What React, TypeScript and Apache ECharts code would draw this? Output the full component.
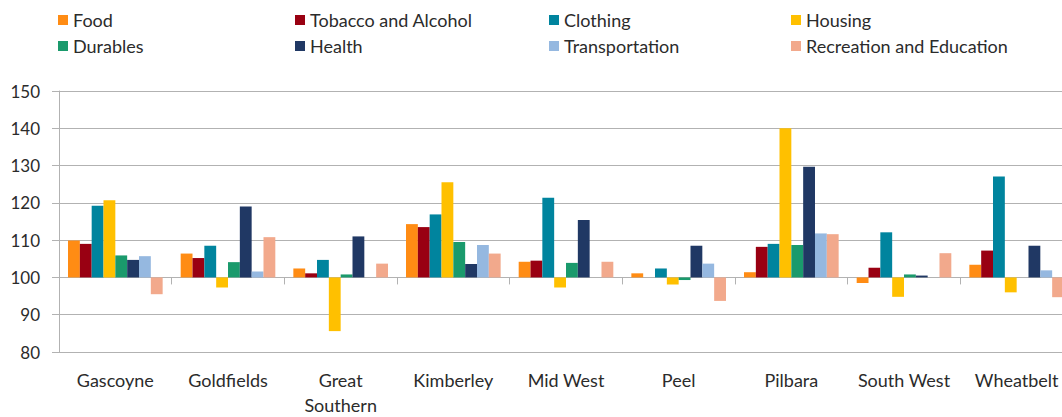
import { useEffect, useRef } from "react";
import * as echarts from "echarts";

// Regions of Western Australia (category axis)
const regions = [
  "Gascoyne",
  "Goldfields",
  "Great\nSouthern",
  "Kimberley",
  "Mid West",
  "Peel",
  "Pilbara",
  "South West",
  "Wheatbelt",
];

// Price index by expenditure group (Perth = 100)
const food = [109.9, 106.4, 102.4, 114.3, 104.2, 101.1, 101.4, 98.5, 103.4];
const tobaccoAlcohol = [109.0, 105.2, 101.1, 113.5, 104.5, 100.0, 108.2, 102.6, 107.2];
const clothing = [119.2, 108.5, 104.7, 116.9, 121.4, 102.4, 109.0, 112.1, 127.1];
const housing = [120.7, 97.3, 85.6, 125.5, 97.3, 98.1, 140.0, 94.8, 96.0];
const durables = [105.9, 104.1, 100.8, 109.5, 103.9, 99.3, 108.7, 100.8, 100.0];
const health = [104.7, 119.0, 111.0, 103.6, 115.4, 108.5, 129.7, 100.5, 108.5];
const transportation = [105.7, 101.6, 100.0, 108.7, 100.0, 103.7, 111.8, 100.0, 101.9];
const recreationEducation = [95.5, 110.8, 103.7, 106.4, 104.2, 93.7, 111.6, 106.5, 94.7];

const groupNames = [
  "Food",
  "Tobacco and Alcohol",
  "Clothing",
  "Housing",
  "Durables",
  "Health",
  "Transportation",
  "Recreation and Education",
];
const groupValues = [
  food,
  tobaccoAlcohol,
  clothing,
  housing,
  durables,
  health,
  transportation,
  recreationEducation,
];
const groupColors = [
  "#FF8C14",
  "#990012",
  "#00849E",
  "#FFC000",
  "#1A9A6C",
  "#203864",
  "#95B8E0",
  "#F2A98C",
];

// Value axis: index values, bars hang from the base of 100
const baseIndex = 100;
const axisMin = 80;
const axisMax = 150;
const axisStep = 10;

const FONT = "Lato, 'Open Sans', sans-serif";
const TEXT = "#2B2B2B";
const RULE = "#B2B2B2";

export default function App() {
  const ref = useRef<HTMLDivElement>(null);

  useEffect(() => {
    if (!ref.current) return;
    const chart = echarts.init(ref.current, null, { renderer: "svg" });

    // Legend laid out as four columns of two rows
    const legendColumns = [
      [groupNames[0], groupNames[4]],
      [groupNames[1], groupNames[5]],
      [groupNames[2], groupNames[6]],
      [groupNames[3], groupNames[7]],
    ];
    const columnLeft = [58, 295, 549, 791];

    chart.setOption({
      animation: false,
      backgroundColor: "#ffffff",
      color: groupColors,
      legend: legendColumns.map((names, i) => ({
        data: names,
        orient: "vertical",
        left: columnLeft[i],
        top: 10,
        padding: 0,
        itemWidth: 10,
        itemHeight: 10,
        itemGap: 6,
        icon: "rect",
        selectedMode: false,
        textStyle: {
          fontFamily: FONT,
          fontSize: 18,
          color: TEXT,
          lineHeight: 20,
        },
      })),
      grid: { left: 59, top: 91, width: 1014, height: 265 },
      xAxis: [
        {
          type: "category",
          data: regions,
          position: "bottom",
          axisLine: { show: false, onZero: false },
          axisTick: { show: false },
          axisLabel: {
            interval: 0,
            fontFamily: FONT,
            fontSize: 18,
            color: TEXT,
            lineHeight: 25,
            margin: 15,
          },
        },
        {
          type: "category",
          data: regions,
          position: "bottom",
          axisLine: { show: true, onZero: true, lineStyle: { color: RULE, width: 1 } },
          axisTick: { show: true, length: 7, lineStyle: { color: RULE } },
          axisLabel: { show: false },
        },
      ],
      yAxis: {
        type: "value",
        min: axisMin - baseIndex,
        max: axisMax - baseIndex,
        interval: axisStep,
        axisLine: { show: true, lineStyle: { color: RULE, width: 1 } },
        axisTick: { show: true, length: 7, lineStyle: { color: RULE } },
        axisLabel: {
          fontFamily: FONT,
          fontSize: 17,
          color: TEXT,
          margin: 19,
          formatter: (v: number) => String(v + baseIndex),
        },
        splitLine: { show: true, lineStyle: { color: RULE, width: 1 } },
      },
      series: groupNames.map((name, i) => ({
        name,
        type: "bar",
        xAxisIndex: 0,
        barGap: "0%",
        barCategoryGap: "16%",
        data: groupValues[i].map((v) => +(v - baseIndex).toFixed(1)),
      })),
    });

    return () => chart.dispose();
  }, []);

  return (
    <div
      style={{
        position: "fixed",
        left: 0,
        top: 0,
        width: 1062,
        height: 417,
        overflow: "hidden",
        background: "#ffffff",
      }}
    >
      <div ref={ref} style={{ width: 1090, height: 417 }} />
    </div>
  );
}
